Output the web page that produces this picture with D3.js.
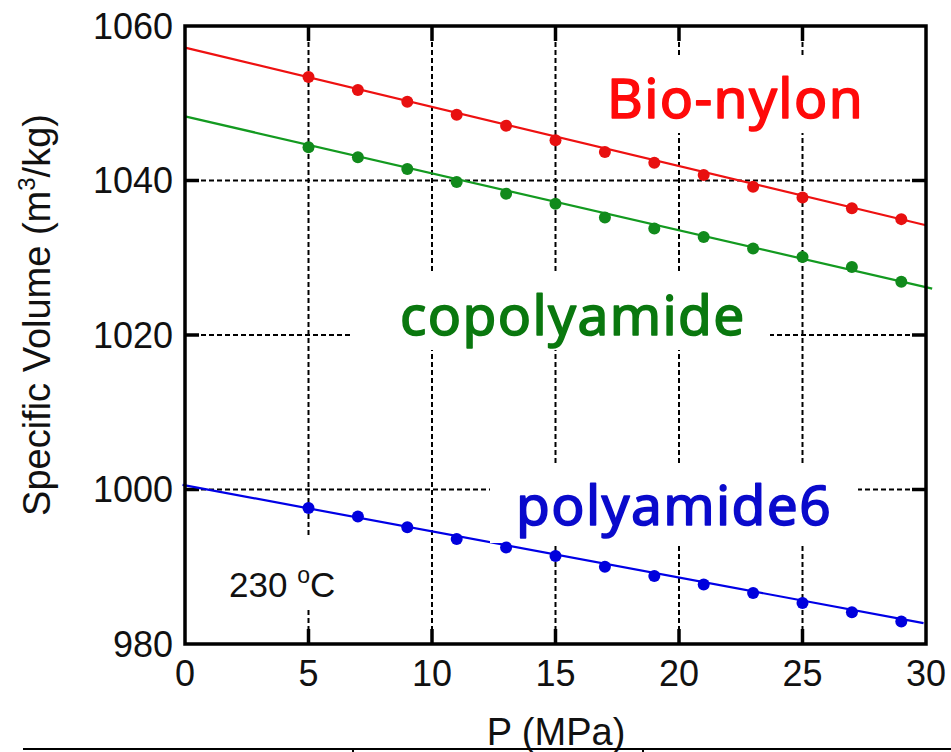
<!DOCTYPE html>
<html>
<head>
<meta charset="utf-8">
<script src="https://cdn.jsdelivr.net/npm/d3@7"></script>
<style>
  html, body { margin: 0; padding: 0; background: #fff; }
  svg { display: block; }
</style>
</head>
<body>
<svg id="chart" width="951" height="752"></svg>
<script>
// ---- data ----
const pressure = [5, 7, 9, 11, 13, 15, 17, 19, 21, 23, 25, 27, 29];
const bioNylon = [1053.4, 1051.7, 1050.2, 1048.5, 1047.1, 1045.2, 1043.7, 1042.3, 1040.7, 1039.2, 1037.8, 1036.4, 1035.0];
const copolyamide = [1044.3, 1043.0, 1041.5, 1039.8, 1038.3, 1037.0, 1035.2, 1033.8, 1032.7, 1031.2, 1030.1, 1028.8, 1026.9];
const polyamide6 = [997.6, 996.5, 995.1, 993.6, 992.5, 991.4, 990.0, 988.8, 987.7, 986.6, 985.3, 984.1, 982.9];
// fitted straight lines: [P, V] end points
const fitBio = [[0, 1057.2], [30, 1034.2]];
const fitCo = [[0, 1048.3], [30.25, 1026.0]];
const fitPa = [[-0.1, 1000.6], [29.9, 982.7]];
const xTicks = [0, 5, 10, 15, 20, 25, 30];
const yTicks = [980, 1000, 1020, 1040, 1060];
const xGrid = [5, 10, 15, 20, 25];
const yGrid = [1000, 1020, 1040];

const svg = d3.select("#chart");
const x = d3.scaleLinear().domain([0, 30]).range([185, 926]);
const y = d3.scaleLinear().domain([980, 1060]).range([644, 26]);
const [x0, x1] = x.range();
const [y0, y1] = y.range(); // y0 bottom, y1 top

// ---- grid ----
const grid = svg.append("g").attr("stroke", "#000").attr("stroke-width", 2).attr("stroke-dasharray", "5,3");
grid.selectAll(".vg").data(xGrid).join("line")
  .attr("x1", d => x(d)).attr("x2", d => x(d)).attr("y1", y1).attr("y2", y0);
grid.selectAll(".hg").data(yGrid).join("line")
  .attr("y1", d => y(d)).attr("y2", d => y(d)).attr("x1", x0).attr("x2", x1);

// ---- ticks (inward) ----
const tk = svg.append("g").attr("stroke", "#000").attr("stroke-width", 3.5);
xGrid.forEach(d => {
  tk.append("line").attr("x1", x(d)).attr("x2", x(d)).attr("y1", y0).attr("y2", y0 - 15);
  tk.append("line").attr("x1", x(d)).attr("x2", x(d)).attr("y1", y1).attr("y2", y1 + 15);
});
yGrid.forEach(d => {
  tk.append("line").attr("y1", y(d)).attr("y2", y(d)).attr("x1", x0).attr("x2", x0 + 14);
  tk.append("line").attr("y1", y(d)).attr("y2", y(d)).attr("x1", x1).attr("x2", x1 - 14);
});

// ---- fitted lines ----
const line = d3.line().x(d => x(d[0])).y(d => y(d[1]));
const series = [
  { fit: fitBio, vals: bioNylon, line: "#ee1111", mark: "#e81010" },
  { fit: fitCo, vals: copolyamide, line: "#139a20", mark: "#118a1c" },
  { fit: fitPa, vals: polyamide6, line: "#0000e6", mark: "#0000dd" }
];
series.forEach(s => {
  svg.append("path").attr("d", line(s.fit)).attr("fill", "none")
    .attr("stroke", s.line).attr("stroke-width", 2.2);
});

// ---- label boxes (mask grid) ----
const boxes = [
  { x: 596, y: 57, w: 290, h: 76 },
  { x: 350, y: 273, w: 420, h: 77 },
  { x: 490, y: 465, w: 368, h: 78 },
  { x: 218, y: 537, w: 134, h: 73 }
];
svg.append("g").selectAll("rect").data(boxes).join("rect")
  .attr("x", d => d.x).attr("y", d => d.y).attr("width", d => d.w).attr("height", d => d.h)
  .attr("fill", "#fff");

// ---- markers ----
series.forEach(s => {
  svg.append("g").selectAll("circle").data(pressure).join("circle")
    .attr("cx", (d) => x(d)).attr("cy", (d, i) => y(s.vals[i])).attr("r", 6)
    .attr("fill", s.mark);
});

// ---- frame ----
svg.append("rect").attr("x", x0).attr("y", y1).attr("width", x1 - x0).attr("height", y0 - y1)
  .attr("fill", "none").attr("stroke", "#000").attr("stroke-width", 3.5);

// ---- tick labels ----
const tf = "'Liberation Sans', Arial, sans-serif";
svg.append("g").selectAll("text").data(xTicks).join("text")
  .attr("x", d => x(d)).attr("y", 686).attr("text-anchor", "middle")
  .attr("font-family", tf).attr("font-size", 36).attr("fill", "#111").text(d => d);
svg.append("g").selectAll("text").data(yTicks).join("text")
  .attr("x", 173).attr("y", d => y(d)).attr("dy", "0.36em").attr("text-anchor", "end")
  .attr("font-family", tf).attr("font-size", 36).attr("fill", "#111").text(d => d);

// ---- axis titles ----
svg.append("text").attr("x", 556).attr("y", 745).attr("text-anchor", "middle")
  .attr("font-family", tf).attr("font-size", 38).attr("fill", "#111").text("P (MPa)");
const yl = svg.append("text").attr("transform", "translate(50,315) rotate(-90)")
  .attr("text-anchor", "middle").attr("font-family", tf).attr("font-size", 38).attr("fill", "#111");
yl.append("tspan").text("Specific Volume (m");
yl.append("tspan").attr("font-size", 24).attr("dy", -15).text("3");
yl.append("tspan").attr("dy", 15).text("/kg)");

// ---- temperature ----
const t = svg.append("text").attr("x", 229).attr("y", 597).attr("font-family", tf)
  .attr("font-size", 35).attr("fill", "#111");
t.append("tspan").text("230 ");
t.append("tspan").attr("font-size", 23).attr("dy", -14).text("o");
t.append("tspan").attr("dy", 14).text("C");

// ---- series labels ----
const lf = "'Noto Sans', 'Open Sans', sans-serif";
[
  { t: "Bio-nylon", x: 607, y: 118, c: "#ff0a0a" },
  { t: "copolyamide", x: 400, y: 335, c: "#0a780f" },
  { t: "polyamide6", x: 516, y: 525, c: "#0a0acc" }
].forEach(l => {
  svg.append("text").attr("x", l.x).attr("y", l.y).attr("font-family", lf)
    .attr("font-size", 55).attr("letter-spacing", 1.4)
    .attr("fill", l.c).attr("stroke", l.c).attr("stroke-width", 1.6)
    .attr("stroke-linejoin", "round").text(l.t);
});

// ---- table line at the bottom ----
const tb = svg.append("g").attr("stroke", "#000").attr("stroke-width", 2);
tb.append("line").attr("x1", 23).attr("x2", 951).attr("y1", 749).attr("y2", 749);
[353, 643].forEach(v => tb.append("line").attr("x1", v).attr("x2", v).attr("y1", 749).attr("y2", 752));
</script>
</body>
</html>
